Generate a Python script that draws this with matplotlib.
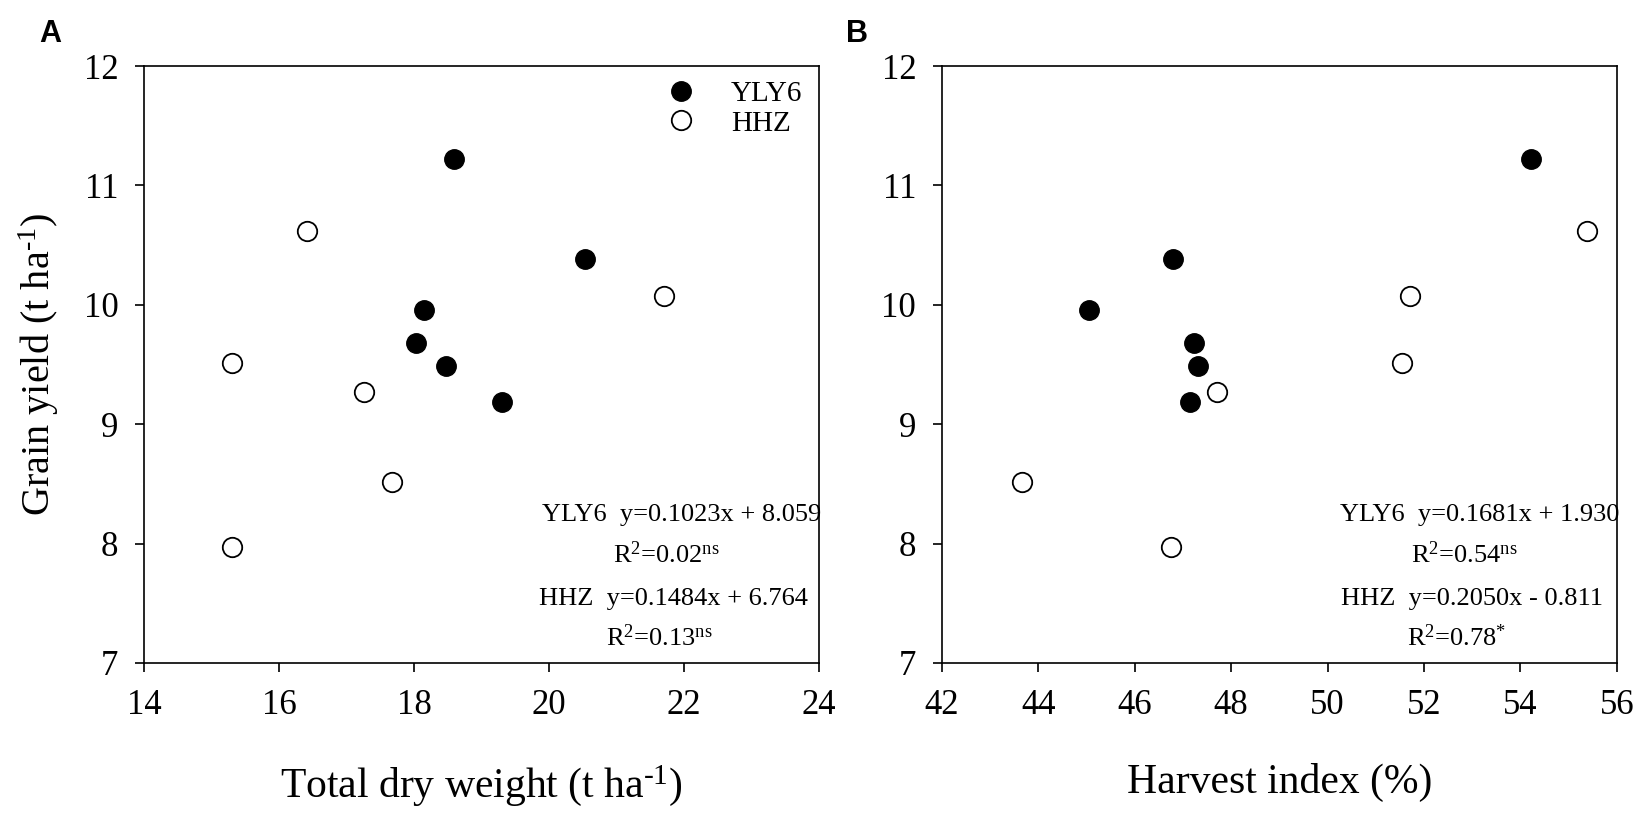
import numpy as np
import matplotlib
matplotlib.use("Agg")
import matplotlib.pyplot as plt
from matplotlib.lines import Line2D

# --- data ---
yly6_tdw = [18.59, 18.15, 18.03, 18.47, 20.53, 19.31]
yly6_hi = [54.22, 45.05, 47.22, 47.31, 46.79, 47.15]
yly6_gy = [11.22, 9.96, 9.68, 9.49, 10.38, 9.19]

hhz_tdw = [16.42, 15.31, 17.26, 17.67, 15.31, 21.70]
hhz_hi = [55.39, 51.55, 47.70, 43.66, 46.76, 51.71]
hhz_gy = [10.62, 9.515, 9.27, 8.52, 7.97, 10.07]

eq_a = ["YLY6  y=0.1023x + 8.059", r"R$^{2}$=0.02$^{ns}$",
        "HHZ  y=0.1484x + 6.764", r"R$^{2}$=0.13$^{ns}$"]
eq_b = ["YLY6  y=0.1681x + 1.930", r"R$^{2}$=0.54$^{ns}$",
        "HHZ  y=0.2050x - 0.811", r"R$^{2}$=0.78$^{*}$"]

plt.rcParams["font.family"] = ["Liberation Serif", "DejaVu Serif"]
plt.rcParams["mathtext.fontset"] = "custom"
plt.rcParams["mathtext.rm"] = "Liberation Serif"
plt.rcParams["mathtext.it"] = "Liberation Serif"
plt.rcParams["mathtext.default"] = "rm"

fig = plt.figure(figsize=(16.37, 8.17), dpi=100)
ax_a = fig.add_axes([0.088, 0.1885, 0.4123, 0.7307])
ax_b = fig.add_axes([0.5754, 0.1885, 0.4123, 0.7307])

MS = 14
EQ_X = [0.797, 0.774, 0.785, 0.763]
EQ_Y = [0.238, 0.168, 0.097, 0.029]


def style_axes(ax, xticks):
    ax.set_xlim(xticks[0], xticks[-1])
    ax.set_ylim(7, 12)
    ax.set_xticks(xticks)
    ax.set_yticks(range(7, 13))
    ax.tick_params(direction="out", length=6.5, width=1.2, pad=12,
                   labelsize=25)
    for spine in ax.spines.values():
        spine.set_linewidth(1.2)


def draw(ax, xs_y, xs_h, eqs):
    ax.plot(xs_y, yly6_gy, "o", ms=MS, mfc="black", mec="black", mew=1,
            zorder=3)
    ax.plot(xs_h, hhz_gy, "o", ms=MS, mfc="white", mec="black", mew=1.3,
            zorder=3)
    for txt, x, y in zip(eqs, EQ_X, EQ_Y):
        ax.text(x, y, txt, transform=ax.transAxes, ha="center",
                va="baseline", fontsize=19)


draw(ax_a, yly6_tdw, hhz_tdw, eq_a)
draw(ax_b, yly6_hi, hhz_hi, eq_b)
style_axes(ax_a, list(range(14, 25, 2)))
style_axes(ax_b, list(range(42, 57, 2)))

ax_a.set_xlabel(r"Total dry weight (t ha$^{\text{-1}}$)", fontsize=30,
                labelpad=30)
ax_a.set_ylabel(r"Grain yield (t ha$^{\text{-1}}$)", fontsize=29,
                labelpad=16)
ax_b.set_xlabel("Harvest index (%)", fontsize=30, labelpad=30)

handles = [
    Line2D([], [], ls="none", marker="o", ms=MS, mfc="black", mec="black"),
    Line2D([], [], ls="none", marker="o", ms=MS, mfc="white", mec="black",
           mew=1.3),
]
ax_a.legend(handles, ["YLY6", "HHZ"], loc="upper right",
            bbox_to_anchor=(0.975, 0.975), frameon=False, fontsize=21,
            handlelength=1.0, handletextpad=1.2, labelspacing=0.1,
            borderpad=0, borderaxespad=0)

fig.text(0.024, 0.948, "A", fontsize=22, fontweight="bold",
         family="Liberation Sans")
fig.text(0.517, 0.948, "B", fontsize=22, fontweight="bold",
         family="Liberation Sans")

fig.savefig("out.png", dpi=100)
